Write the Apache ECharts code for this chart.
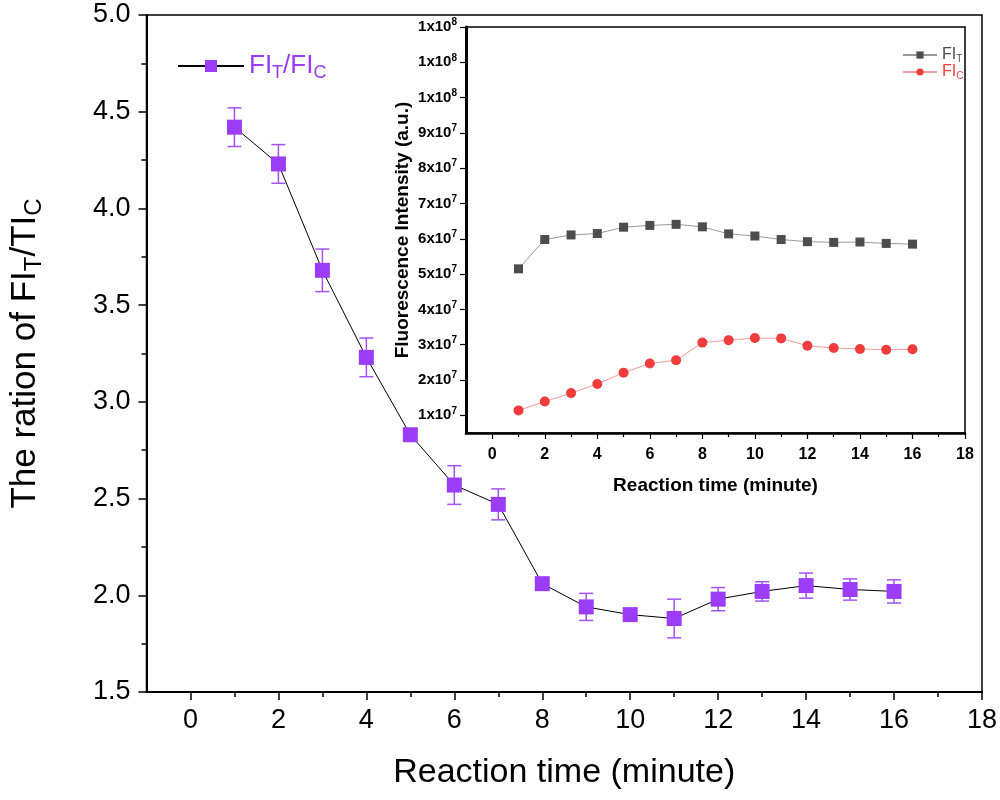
<!DOCTYPE html>
<html><head><meta charset="utf-8">
<script src="https://cdn.jsdelivr.net/npm/echarts@6/dist/echarts.min.js"></script>
<style>html,body{margin:0;padding:0;background:#fff}#c{width:1000px;height:800px}</style>
</head><body><div id="c"></div>
<script>
// ---- data ----
const time = [1,2,3,4,5,6,7,8,9,10,11,12,13,14,15,16];
const ratio = [4.42,4.23,3.68,3.23,2.83,2.57,2.47,2.06,1.94,1.90,1.88,1.98,2.02,2.05,2.03,2.02];
const ratioErr = [0.10,0.10,0.11,0.10,0.02,0.10,0.08,0.02,0.07,0.02,0.10,0.06,0.05,0.065,0.055,0.06];
const fiT = [5.15e7,5.98e7,6.11e7,6.15e7,6.33e7,6.38e7,6.41e7,6.34e7,6.14e7,6.08e7,5.98e7,5.92e7,5.90e7,5.91e7,5.87e7,5.85e7];
const fiC = [1.14e7,1.39e7,1.63e7,1.89e7,2.21e7,2.47e7,2.56e7,3.06e7,3.13e7,3.19e7,3.18e7,2.97e7,2.91e7,2.88e7,2.86e7,2.87e7];
const xMajorTicks = [0,2,4,6,8,10,12,14,16,18];
const xMinorTicks = [1,3,5,7,9,11,13,15,17];
const insetYTicks = [1e7,2e7,3e7,4e7,5e7,6e7,7e7,8e7,9e7,1e8,1.1e8,1.2e8];

const PURPLE = '#9B3CF6', ERR = '#A452F6', GRAY = '#4D4D4D', RED = '#F03C3C';
const FONT = '"Liberation Sans", Arial, sans-serif';

const chart = echarts.init(document.getElementById('c'), null, {renderer:'canvas'});

function sciFmt(v){
  const e = Math.floor(Math.log10(v) + 1e-9);
  const m = Math.round(v / Math.pow(10, e));
  return '{n|' + m + 'x10}{s|' + e + '}';
}

const option = {
  animation: false,
  backgroundColor: '#fff',
  grid: [
    {left:143, right:15, top:15, bottom:108, show:true, borderColor:'#000', borderWidth:1.5, backgroundColor:'transparent'},
    {left:466, right:35, top:27, bottom:367, show:true, borderColor:'#000', borderWidth:1.5, backgroundColor:'#fff'}
  ],
  legend: [
    {
      left:172, top:48, itemWidth:66, itemHeight:15,
      data:['ratio'],
      formatter: () => '{a|FI}{s|T}{a|/FI}{s|C}',
      textStyle:{
        fontFamily:FONT, color:PURPLE,
        rich:{
          a:{fontSize:26, color:PURPLE, fontFamily:FONT},
          s:{fontSize:18, color:PURPLE, fontFamily:FONT, padding:[14,0,0,0]}
        }
      }
    },
    {
      left:897, top:42, orient:'vertical', itemWidth:34, itemHeight:9, itemGap:0,
      data:['FIT','FIC'],
      formatter: n => n === 'FIT' ? '{aT|FI}{sT|T}' : '{aC|FI}{sC|C}',
      textStyle:{
        fontFamily:FONT,
        rich:{
          aT:{fontSize:16, color:GRAY, fontFamily:FONT},
          sT:{fontSize:10, color:GRAY, fontFamily:FONT, padding:[8,0,0,0]},
          aC:{fontSize:16, color:RED, fontFamily:FONT},
          sC:{fontSize:10, color:RED, fontFamily:FONT, padding:[8,0,0,0]}
        }
      }
    }
  ],
  xAxis: [
    {
      gridIndex:0, type:'value', min:-1, max:18, position:'bottom',
      name:'Reaction time (minute)', nameLocation:'middle', nameGap:64,
      nameTextStyle:{fontSize:34, color:'#000', fontFamily:FONT},
      axisLine:{show:true, onZero:false, lineStyle:{color:'#000', width:2}},
      axisTick:{show:true, customValues:xMajorTicks, length:8, lineStyle:{color:'#000', width:1.5}},
      axisLabel:{show:true, customValues:xMajorTicks, fontSize:27, color:'#000', fontFamily:FONT, margin:15},
      splitLine:{show:false}
    },
    {
      gridIndex:0, type:'value', min:-1, max:18, position:'bottom',
      axisLine:{show:false, onZero:false},
      axisTick:{show:true, customValues:xMinorTicks, length:5, lineStyle:{color:'#000', width:1.5}},
      axisLabel:{show:false},
      splitLine:{show:false}
    },
    {
      gridIndex:1, type:'value', min:-1, max:18, position:'bottom',
      name:'Reaction time (minute)', nameLocation:'middle', nameGap:43,
      nameTextStyle:{fontSize:19, fontWeight:'bold', color:'#000', fontFamily:FONT},
      axisLine:{show:true, onZero:false, lineStyle:{color:'#000', width:2.5}},
      axisTick:{show:true, customValues:xMajorTicks, length:6, lineStyle:{color:'#000', width:1.2}},
      axisLabel:{show:true, customValues:xMajorTicks, fontSize:16, fontWeight:'bold', color:'#000', fontFamily:FONT, margin:14},
      splitLine:{show:false}
    },
    {
      gridIndex:1, type:'value', min:-1, max:18, position:'bottom',
      axisLine:{show:false, onZero:false},
      axisTick:{show:true, customValues:xMinorTicks, length:4, lineStyle:{color:'#000', width:1.2}},
      axisLabel:{show:false},
      splitLine:{show:false}
    }
  ],
  yAxis: [
    {
      gridIndex:0, type:'value', min:1.5, max:5, interval:0.5,
      name:'{a|The ration of FI}{s|T}{a|/TI}{s|C}', nameLocation:'middle', nameGap:100, nameRotate:90,
      nameTextStyle:{
        fontFamily:FONT, color:'#000',
        rich:{
          a:{fontSize:35, color:'#000', fontFamily:FONT},
          s:{fontSize:24, color:'#000', fontFamily:FONT, padding:[18,0,0,0]}
        }
      },
      axisLine:{show:true, onZero:false, lineStyle:{color:'#000', width:2}},
      axisTick:{show:true, length:8, lineStyle:{color:'#000', width:1.5}},
      minorTick:{show:true, splitNumber:2, length:5, lineStyle:{color:'#000', width:1.5}},
      axisLabel:{fontSize:27, color:'#000', fontFamily:FONT, margin:16, formatter: v => v.toFixed(1)},
      splitLine:{show:false}, minorSplitLine:{show:false}
    },
    {
      gridIndex:1, type:'value', min:5e6, max:1.2e8,
      name:'Fluorescence Intensity (a.u.)', nameLocation:'middle', nameGap:54, nameRotate:90,
      nameTextStyle:{fontSize:19, fontWeight:'bold', color:'#000', fontFamily:FONT},
      axisLine:{show:true, onZero:false, lineStyle:{color:'#000', width:3}},
      axisTick:{show:true, customValues:insetYTicks, length:6, lineStyle:{color:'#000', width:1.2}},
      axisLabel:{show:true, customValues:insetYTicks, margin:9, formatter: sciFmt,
        rich:{
          n:{fontSize:15, fontWeight:'bold', color:'#000', fontFamily:FONT},
          s:{fontSize:10, fontWeight:'bold', color:'#000', fontFamily:FONT, padding:[0,0,9,0]}
        }
      },
      splitLine:{show:false}
    }
  ],
  series: [
    {
      name:'ratioErr', type:'custom', xAxisIndex:0, yAxisIndex:0, z:2,
      data: time.map((t,i) => [t, ratio[i]-ratioErr[i], ratio[i]+ratioErr[i]]),
      encode:{x:0, y:[1,2]},
      renderItem:(params, api) => {
        const x = api.value(0);
        const lo = api.coord([x, api.value(1)]);
        const hi = api.coord([x, api.value(2)]);
        const w = 7;
        const st = {stroke:ERR, lineWidth:1.5};
        return {type:'group', children:[
          {type:'line', shape:{x1:lo[0], y1:lo[1], x2:hi[0], y2:hi[1]}, style:st},
          {type:'line', shape:{x1:lo[0]-w, y1:lo[1], x2:lo[0]+w, y2:lo[1]}, style:st},
          {type:'line', shape:{x1:hi[0]-w, y1:hi[1], x2:hi[0]+w, y2:hi[1]}, style:st}
        ]};
      }
    },
    {
      name:'ratio', type:'line', xAxisIndex:0, yAxisIndex:0, z:3,
      data: time.map((t,i) => [t, ratio[i]]),
      symbol:'rect', symbolSize:15,
      itemStyle:{color:PURPLE},
      lineStyle:{color:'#000', width:1}
    },
    {
      name:'FIT', type:'line', xAxisIndex:2, yAxisIndex:1, z:5,
      data: time.map((t,i) => [t, fiT[i]]),
      symbol:'rect', symbolSize:9,
      itemStyle:{color:GRAY},
      lineStyle:{color:'#9a9a9a', width:1}
    },
    {
      name:'FIC', type:'line', xAxisIndex:2, yAxisIndex:1, z:5,
      data: time.map((t,i) => [t, fiC[i]]),
      symbol:'circle', symbolSize:10,
      itemStyle:{color:RED},
      lineStyle:{color:'#F39A9A', width:1}
    }
  ]
};
chart.setOption(option);
</script>
</body></html>
